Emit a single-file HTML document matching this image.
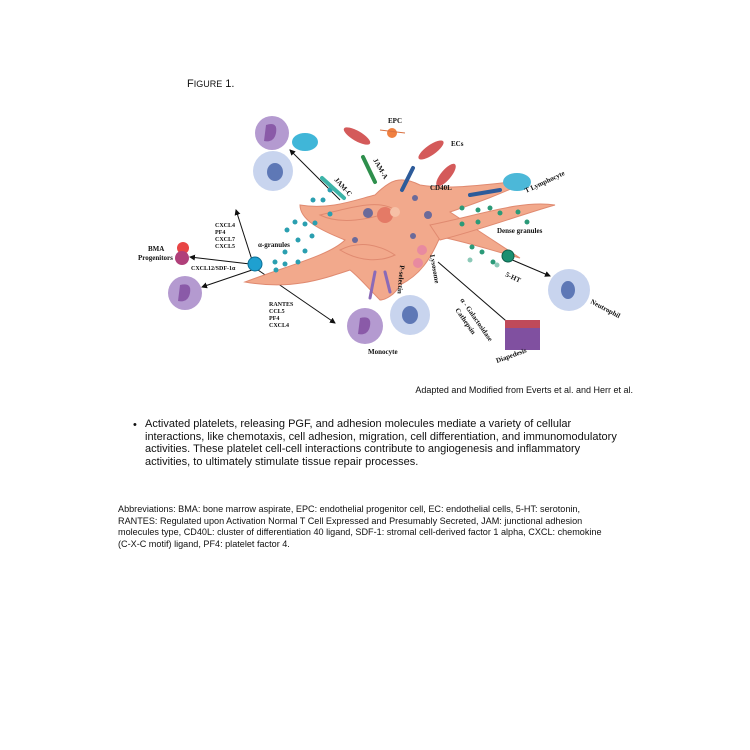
<!DOCTYPE html>
<html><head><meta charset="utf-8"><style>
body{margin:0;background:#fff;width:750px;height:750px;overflow:hidden;position:relative;font-family:"Liberation Sans",Arial,sans-serif;color:#111}
.t{position:absolute;white-space:nowrap}
</style></head><body>
<div class="t" style="left:187px;top:78px;font-size:11px">F<span style="font-size:9px">IGURE</span> 1.</div>
<svg style="position:absolute;left:0;top:0" width="750" height="400" viewBox="0 0 750 400" font-family="Liberation Serif,serif" font-weight="bold">
<defs><marker id="a" markerWidth="6" markerHeight="6" refX="5" refY="3" orient="auto"><path d="M0,0L6,3L0,6z" fill="#111"/></marker></defs>
<g stroke="#111" stroke-width="1" fill="none" marker-end="url(#a)">
<line x1="340" y1="200" x2="290" y2="150"/>
<line x1="252" y1="260" x2="236" y2="210"/>
<line x1="250" y1="264" x2="190" y2="257"/>
<line x1="252" y1="270" x2="202" y2="287"/>
<line x1="258" y1="270" x2="335" y2="323"/>
<line x1="510" y1="259" x2="550" y2="276"/>
<line x1="438" y1="262" x2="512" y2="326"/>
</g>
<g fill="#f2a98c" stroke="#e08a70" stroke-width="1">
<path d="M245,282 C290,265 330,255 345,240 C320,230 300,220 300,205 C330,210 355,200 375,195 C390,180 400,175 420,185 C450,190 480,185 530,180 C500,195 470,205 450,212 C470,225 500,245 520,258 C490,250 460,240 440,237 C430,260 420,275 400,285 C395,295 385,300 380,300 C370,290 360,278 350,270 C320,280 290,290 245,282Z"/>
<path d="M430,225 C480,215 520,200 555,205 C520,215 480,230 440,240Z"/>
<path d="M320,215 C360,205 380,200 395,210 C370,220 340,225 320,215Z"/>
<path d="M340,250 C360,240 380,245 395,255 C380,262 360,262 340,250Z"/>
</g>
<g fill="#e47a66"><circle cx="385" cy="215" r="8"/><circle cx="395" cy="212" r="5" fill="#f6c0a6"/></g>
<g fill="#6b6a9a"><circle cx="368" cy="213" r="5"/><circle cx="428" cy="215" r="4"/><circle cx="413" cy="236" r="3"/><circle cx="355" cy="240" r="3"/><circle cx="415" cy="198" r="3"/></g>
<g fill="#2a9fb0"><circle cx="313" cy="200" r="2.5"/><circle cx="323" cy="200" r="2.5"/><circle cx="295" cy="222" r="2.5"/><circle cx="305" cy="224" r="2.5"/><circle cx="315" cy="223" r="2.5"/><circle cx="287" cy="230" r="2.5"/><circle cx="298" cy="240" r="2.5"/><circle cx="312" cy="236" r="2.5"/><circle cx="305" cy="251" r="2.5"/><circle cx="285" cy="252" r="2.5"/><circle cx="276" cy="270" r="2.5"/><circle cx="275" cy="262" r="2.5"/><circle cx="285" cy="264" r="2.5"/><circle cx="298" cy="262" r="2.5"/><circle cx="330" cy="214" r="2.5"/><circle cx="330" cy="190" r="2.5"/></g>
<g fill="#2b9a78"><circle cx="462" cy="208" r="2.5"/><circle cx="478" cy="210" r="2.5"/><circle cx="490" cy="208" r="2.5"/><circle cx="500" cy="213" r="2.5"/><circle cx="518" cy="212" r="2.5"/><circle cx="527" cy="222" r="2.5"/><circle cx="478" cy="222" r="2.5"/><circle cx="462" cy="224" r="2.5"/><circle cx="472" cy="247" r="2.5"/><circle cx="482" cy="252" r="2.5"/><circle cx="493" cy="262" r="2.5"/><circle cx="497" cy="265" r="2.5" fill="#8cc9b8"/><circle cx="470" cy="260" r="2.5" fill="#8cc9b8"/></g>
<circle cx="255" cy="264" r="7" fill="#1fa0d0" stroke="#0a6f96"/>
<circle cx="508" cy="256" r="6" fill="#1a8f70" stroke="#0e5e49"/>
<g stroke-width="4" stroke-linecap="round">
<line x1="322" y1="178" x2="344" y2="198" stroke="#3cb4a8"/>
<line x1="363" y1="157" x2="375" y2="182" stroke="#2e8f4c"/>
<line x1="413" y1="168" x2="402" y2="190" stroke="#2d5b9a"/>
<line x1="500" y1="190" x2="470" y2="195" stroke="#2d5b9a"/>
<line x1="375" y1="272" x2="370" y2="298" stroke="#8a6ab8" stroke-width="3"/>
<line x1="385" y1="272" x2="390" y2="292" stroke="#8a6ab8" stroke-width="3"/>
</g>
<circle cx="272" cy="133" r="17" fill="#b49ad0"/><path d="M266,125 q12,-4 10,8 q-2,10 -12,8" fill="#8a5aa8"/>
<ellipse cx="305" cy="142" rx="13" ry="9" fill="#40b6d8"/>
<circle cx="273" cy="171" r="20" fill="#c8d4ee"/><ellipse cx="275" cy="172" rx="8" ry="9" fill="#5e78b6"/>
<g fill="#d45a5a"><ellipse cx="357" cy="136" rx="15" ry="5" transform="rotate(30 357 136)"/><ellipse cx="431" cy="150" rx="15" ry="5" transform="rotate(-35 431 150)"/><ellipse cx="446" cy="175" rx="14" ry="5" transform="rotate(-50 446 175)"/></g>
<circle cx="392" cy="133" r="5" fill="#f08040"/><line x1="380" y1="130" x2="405" y2="133" stroke="#d97040"/>
<ellipse cx="517" cy="182" rx="14" ry="9" fill="#4cb8d8"/>
<circle cx="569" cy="290" r="21" fill="#c8d4ee"/><ellipse cx="568" cy="290" rx="7" ry="9" fill="#5e78b6"/>
<circle cx="410" cy="315" r="20" fill="#c8d4ee"/><ellipse cx="410" cy="315" rx="8" ry="9" fill="#5e78b6"/>
<circle cx="365" cy="326" r="18" fill="#b49ad0"/><path d="M360,318 q12,-3 10,8 q-2,10 -12,8" fill="#8a5aa8"/>
<circle cx="185" cy="293" r="17" fill="#b49ad0"/><path d="M180,285 q12,-3 10,8 q-2,10 -12,8" fill="#8a5aa8"/>
<circle cx="183" cy="248" r="6" fill="#e84545"/><circle cx="182" cy="258" r="7" fill="#b0407a"/>
<circle cx="418" cy="263" r="5" fill="#e88aa0"/><circle cx="422" cy="250" r="5" fill="#e88aa0"/>
<rect x="505" y="320" width="35" height="30" fill="#c04a5a"/><rect x="505" y="328" width="35" height="22" fill="#8050a0"/>
<g font-size="7" fill="#111">
<text x="388" y="123">EPC</text>
<text x="451" y="146">ECs</text>
<text x="430" y="190">CD40L</text>
<text x="526" y="193" transform="rotate(-25 526 193)">T Lymphocyte</text>
<text x="497" y="233">Dense granules</text>
<text x="505" y="276" transform="rotate(25 505 276)">5-HT</text>
<text x="590" y="303" transform="rotate(28 590 303)">Neutrophil</text>
<text x="497" y="363" transform="rotate(-20 497 363)">Diapedesis</text>
<text x="368" y="354">Monocyte</text>
<text x="258" y="247">α-granules</text>
<text x="148" y="251">BMA</text><text x="138" y="260">Progenitors</text>
<text x="191" y="270" font-size="6">CXCL12/SDF-1α</text>
<text x="334" y="180" transform="rotate(48 334 180)">JAM-C</text>
<text x="373" y="160" transform="rotate(60 373 160)">JAM-A</text>
<text x="430" y="255" transform="rotate(80 430 255)">Lysosome</text>
<text x="400" y="265" transform="rotate(95 400 265)">P-selectin</text>
<text x="460" y="300" transform="rotate(55 460 300)">α - Galactosidase</text>
<text x="455" y="310" transform="rotate(55 455 310)">Cathepsin</text>
</g>
<g font-size="6" fill="#111">
<text x="215" y="227">CXCL4</text><text x="215" y="234">PF4</text><text x="215" y="241">CXCL7</text><text x="215" y="248">CXCL5</text>
<text x="269" y="306">RANTES</text><text x="269" y="313">CCL5</text><text x="269" y="320">PF4</text><text x="269" y="327">CXCL4</text>
</g>
</svg>
<div class="t" style="right:117px;top:385px;font-size:9px">Adapted and Modified from Everts et al. and Herr et al.</div>
<div class="t" style="left:133px;top:419px;font-size:11px">•</div>
<div class="t" style="left:145px;top:418px;font-size:11px;line-height:12.7px">Activated platelets, releasing PGF, and adhesion molecules mediate a variety of cellular<br>interactions, like chemotaxis, cell adhesion, migration, cell differentiation, and immunomodulatory<br>activities. These platelet cell-cell interactions contribute to angiogenesis and inflammatory<br>activities, to ultimately stimulate tissue repair processes.</div>
<div class="t" style="left:118px;top:504px;font-size:9.1px;line-height:11.5px">Abbreviations: BMA: bone marrow aspirate, EPC: endothelial progenitor cell, EC: endothelial cells, 5-HT: serotonin,<br>RANTES: Regulated upon Activation Normal T Cell Expressed and Presumably Secreted, JAM: junctional adhesion<br>molecules type, CD40L: cluster of differentiation 40 ligand, SDF-1: stromal cell-derived factor 1 alpha, CXCL: chemokine<br>(C-X-C motif) ligand, PF4: platelet factor 4.</div>
</body></html>
